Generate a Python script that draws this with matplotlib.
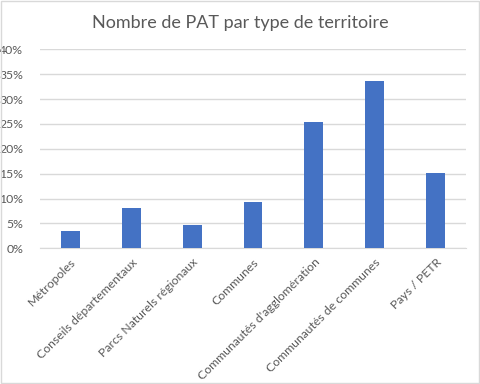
import matplotlib.pyplot as plt
from matplotlib.ticker import PercentFormatter

categories = ["Métropoles", "Conseils départementaux", "Parcs Naturels régionaux",
              "Communes", "Communautés d'agglomération", "Communautés de communes",
              "Pays / PETR"]
values = [3.5, 8.1, 4.7, 9.3, 25.4, 33.6, 15.1]
yticks = [0, 5, 10, 15, 20, 25, 30, 35, 40]

plt.rcParams['font.family'] = ['Lato', 'DejaVu Sans']

fig = plt.figure(figsize=(4.8, 3.84), dpi=100)
ax = fig.add_axes([0.0833, 0.3534, 0.8875, 0.5182])

x = range(len(categories))
ax.bar(x, values, width=0.31, color="#4472C4", zorder=3)

ax.set_xlim(-0.5, len(categories) - 0.5)
ax.set_ylim(0, 40)
ax.set_yticks(yticks)
ax.yaxis.set_major_formatter(PercentFormatter(decimals=0))
ax.grid(axis="y", color="#D9D9D9", linewidth=1, zorder=0)

ax.set_xticks(list(x))
ax.set_xticklabels(categories, rotation=45, ha="right", rotation_mode="anchor")
ax.tick_params(axis="both", length=0, labelsize=8.8, colors="#595959")
ax.tick_params(axis="x", pad=6)
ax.tick_params(axis="y", pad=12)

for s in ["top", "right", "left"]:
    ax.spines[s].set_visible(False)
ax.spines["bottom"].set_color("#D9D9D9")

fig.text(0.5, 0.94, "Nombre de PAT par type de territoire", ha="center", va="center",
         fontsize=13, color="#595959")

# light frame around the whole chart
fig.patches.append(plt.Rectangle((0.002, 0.003), 0.995, 0.994, transform=fig.transFigure,
                                 fill=False, edgecolor="#D9D9D9", linewidth=1))

fig.savefig("out.png", dpi=100)
